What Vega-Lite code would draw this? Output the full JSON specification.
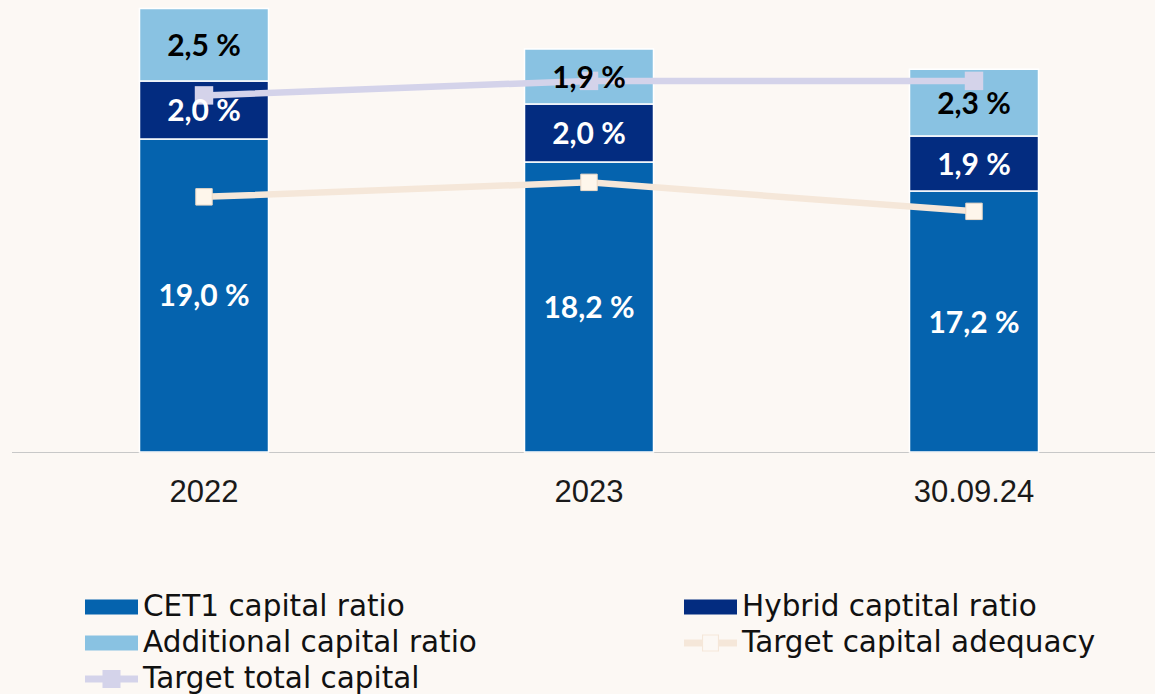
{
  "$schema": "https://vega.github.io/schema/vega-lite/v6.json",
  "autosize": {"type": "none"},
  "width": 1143.5,
  "height": 452,
  "padding": {"left": 11.5, "top": 0, "right": 0, "bottom": 242},
  "background": "#FCF8F4",
  "config": {"view": {"stroke": null}},
  "datasets": {
    "bars": [
      {"period": "2022", "series": "CET1 capital ratio", "value": 19.0},
      {"period": "2022", "series": "Hybrid captital ratio", "value": 2.0},
      {"period": "2022", "series": "Additional capital ratio", "value": 2.5},
      {"period": "2023", "series": "CET1 capital ratio", "value": 18.2},
      {"period": "2023", "series": "Hybrid captital ratio", "value": 2.0},
      {"period": "2023", "series": "Additional capital ratio", "value": 1.9},
      {"period": "30.09.24", "series": "CET1 capital ratio", "value": 17.2},
      {"period": "30.09.24", "series": "Hybrid captital ratio", "value": 1.9},
      {"period": "30.09.24", "series": "Additional capital ratio", "value": 2.3}
    ],
    "targets": [
      {"period": "2022", "series": "Target capital adequacy", "value": 17.0},
      {"period": "2023", "series": "Target capital adequacy", "value": 17.5},
      {"period": "30.09.24", "series": "Target capital adequacy", "value": 16.5},
      {"period": "2022", "series": "Target total capital", "value": 20.5},
      {"period": "2023", "series": "Target total capital", "value": 21.0},
      {"period": "30.09.24", "series": "Target total capital", "value": 21.0}
    ]
  },
  "encoding": {
    "x": {
      "field": "period", "type": "nominal", "sort": ["2022", "2023", "30.09.24"],
      "scale": {"range": [0, 1155], "paddingInner": 0, "paddingOuter": 0},
      "axis": {"title": null, "ticks": false, "tickSize": 0, "labelAngle": 0, "labelFont": "Liberation Sans", "labelFontSize": 31, "labelColor": "#1a1a1a", "labelPadding": 25, "domainColor": "#C8C8C8", "domainWidth": 1.2, "grid": false}
    },
    "color": {
      "field": "series", "type": "nominal",
      "scale": {
        "domain": ["CET1 capital ratio", "Hybrid captital ratio", "Additional capital ratio", "Target capital adequacy", "Target total capital"],
        "range": ["#0563AE", "#032C80", "#89C2E2", "#F5E7D9", "#D4D3EA"]
      },
      "legend": {
        "orient": "none", "legendX": 73.5, "legendY": 589, "columns": 2, "direction": "horizontal", "title": null,
        "labelFont": "DejaVu Sans", "labelFontSize": 29.5, "labelColor": "#111111",
        "symbolSize": 2809, "symbolStrokeWidth": 0, "symbolOpacity": 1, "symbolFillColor": "#888888", "labelOffset": 5,
        "columnPadding": 207, "rowPadding": 0, "clipHeight": 36, "padding": 0, "labelLimit": 700,
        "symbolType": {"expr": "datum.value === 'Target total capital' ? 'M-1,-0.132H1V0.132H-1Z M-0.34,-0.34H0.34V0.34H-0.34Z' : (datum.value === 'Target capital adequacy' ? 'M-1,-0.132H-0.32V0.132H-1Z M0.32,-0.132H1V0.132H0.32Z M-0.32,-0.32H0.32V0.32H-0.32Z M-0.28,-0.28V0.28H0.28V-0.28Z' : 'M-1,-0.283H1V0.283H-1Z')"}
      }
    }
  },
  "layer": [
    {
      "data": {"name": "bars"},
      "transform": [
        {"calculate": "indexof(['CET1 capital ratio','Hybrid captital ratio','Additional capital ratio'], datum.series)", "as": "ord"},
        {"stack": "value", "groupby": ["period"], "sort": [{"field": "ord", "order": "ascending"}], "as": ["v0", "v1"]}
      ],
      "mark": {"type": "bar", "size": 129, "stroke": "#FFFFFF", "strokeWidth": 1.5},
      "encoding": {
        "y": {"field": "v1", "type": "quantitative", "scale": {"domain": [8.2, 23.79], "clamp": true, "nice": false, "zero": false}, "axis": null},
        "y2": {"field": "v0"}
      }
    },
    {
      "data": {"name": "targets"},
      "mark": {"type": "line", "strokeWidth": 6.5},
      "encoding": {
        "y": {"field": "value", "type": "quantitative", "scale": {"domain": [8.2, 23.79], "clamp": true, "nice": false, "zero": false}, "axis": null}
      }
    },
    {
      "data": {"name": "targets"},
      "transform": [{"filter": "datum.series === 'Target total capital'"}],
      "mark": {"type": "point", "shape": "square", "filled": true, "size": 340, "opacity": 1},
      "encoding": {
        "y": {"field": "value", "type": "quantitative", "scale": {"domain": [8.2, 23.79], "clamp": true, "nice": false, "zero": false}, "axis": null}
      }
    },
    {
      "data": {"name": "targets"},
      "transform": [{"filter": "datum.series === 'Target capital adequacy'"}],
      "mark": {"type": "point", "shape": "square", "filled": true, "fill": "#FEF6EB", "stroke": "#EBD9C6", "strokeWidth": 1, "size": 270, "opacity": 1},
      "encoding": {
        "y": {"field": "value", "type": "quantitative", "scale": {"domain": [8.2, 23.79], "clamp": true, "nice": false, "zero": false}, "axis": null},
        "color": {"value": null}
      }
    },
    {
      "data": {"name": "bars"},
      "transform": [
        {"calculate": "indexof(['CET1 capital ratio','Hybrid captital ratio','Additional capital ratio'], datum.series)", "as": "ord"},
        {"stack": "value", "groupby": ["period"], "sort": [{"field": "ord", "order": "ascending"}], "as": ["v0", "v1"]},
        {"calculate": "(max(datum.v0, 8.2) + datum.v1) / 2", "as": "mid"},
        {"calculate": "replace(format(datum.value, '.1f'), '.', ',') + ' %'", "as": "label"}
      ],
      "mark": {"type": "text", "font": "Lato", "fontWeight": "bold", "fontSize": 30, "baseline": "middle", "align": "center", "dy": 2},
      "encoding": {
        "y": {"field": "mid", "type": "quantitative", "scale": {"domain": [8.2, 23.79], "clamp": true, "nice": false, "zero": false}, "axis": null},
        "text": {"field": "label"},
        "color": {"value": null},
        "fill": {"condition": {"test": "datum.series === 'Additional capital ratio'", "value": "#000000"}, "value": "#FFFFFF"}
      }
    }
  ]
}
